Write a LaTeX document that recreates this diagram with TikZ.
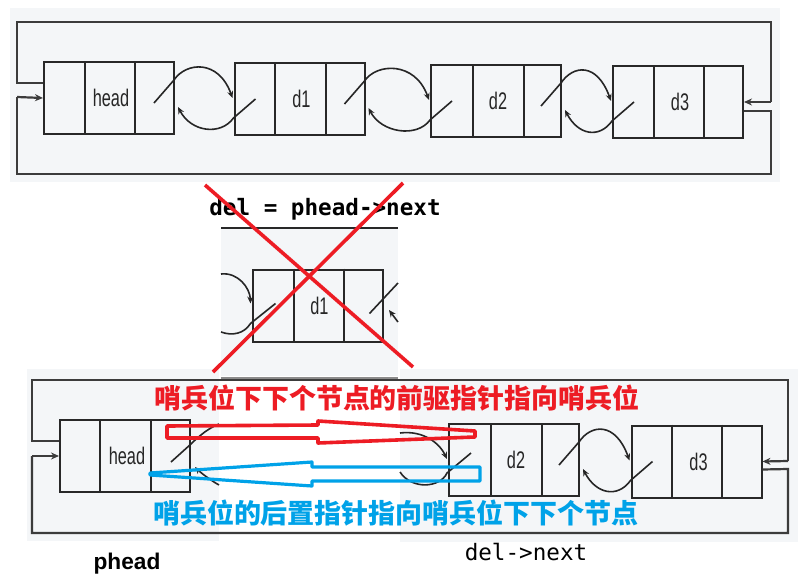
\documentclass[tikz,border=0pt]{standalone}
\usepackage{fontspec}
\usetikzlibrary{arrows.meta,calc}
\newfontfamily\cjk{Noto Sans CJK SC}
\newfontfamily\nodefont[FakeStretch=0.68]{Liberation Sans}
\newfontfamily\monofont{DejaVu Sans Mono}
\newfontfamily\sansb{Liberation Sans}
\definecolor{panelbg}{RGB}{244,246,248}
\definecolor{framec}{RGB}{60,60,60}
\definecolor{boxc}{RGB}{40,40,40}
\definecolor{xred}{RGB}{237,28,36}
\definecolor{xblue}{RGB}{0,162,232}
\tikzset{
  cellbox/.style={draw=boxc, line width=2pt, minimum width=130pt, minimum height=72pt, inner sep=0pt, fill=panelbg},
  divline/.style={draw=boxc, line width=2pt},
  lbl/.style={font=\nodefont\fontsize{24}{24}\selectfont, text=black!85, inner sep=0pt},
  frameline/.style={draw=framec, line width=2.2pt},
  framearrow/.style={draw=framec, line width=2.2pt, -{Stealth[length=8pt,width=7pt]}},
  lnk/.style={draw=black!85, line width=1.6pt, -{Stealth[length=7pt,width=6pt]}},
  lnkplain/.style={draw=black!85, line width=1.6pt},
  crossline/.style={draw=xred, line width=3.6pt},
  redshape/.style={draw=xred, line width=3.6pt, line join=round},
  blueshape/.style={draw=xblue, line width=3.2pt, line join=round},
}
\newcommand\lnode[6]{% name, cx, cy, label, div1, div2
  \node[cellbox] (#1) at (#2,#3) {};
  \draw[divline] ([xshift=#5pt]#1.north west) -- ([xshift=#5pt]#1.south west);
  \draw[divline] ([xshift=#6pt]#1.north west) -- ([xshift=#6pt]#1.south west);
  \node[lbl] (#1-t) at ([xshift=2pt]#1.center) {#4};
}
\newcommand\lk[2]{%
  \draw[lnk] ($(#1.east)+(-21,5)$) -- ($(#1.east)+(-1,-18)$) .. controls ($(#1.east)+(11,-36)$) and ($(#2.west)+(-15,-40)$) .. ($(#2.west)+(-1,-1)$);
  \draw[lnk] ($(#2.west)+(22,0)$) -- ($(#2.west)+(0,19)$) .. controls ($(#2.west)+(-13,37)$) and ($(#1.east)+(16,34)$) .. ($(#1.east)+(3,9)$);
}
\begin{document}
\begin{tikzpicture}[x=1pt,y=-1pt]
\useasboundingbox (0,0) rectangle (807,576);
% ---------- backgrounds ----------
\fill[panelbg] (10,8) rectangle (780,182);
\fill[panelbg] (221,228) rectangle (398,376);
\fill[panelbg] (27,369) rectangle (219,541);
\fill[panelbg] (400,369) rectangle (798,542);
% ---------- top panel ----------
\lnode{h1}{109}{98}{head}{42}{92}
\lnode{a1}{299.5}{99}{d1}{41}{92}
\lnode{a2}{496}{101}{d2}{43}{94}
\lnode{a3}{678}{102}{d3}{42}{92}
\draw[frameline] ([yshift=15pt]h1.west) -- (17,83) -- (17,22) -- (771,22) -- (771,102);
\draw[framearrow] (771,102) -- (a3.east);
\draw[frameline] ([yshift=-9pt]a3.east) -- (771,111) -- (771,174) -- (17,174) -- (17,97);
\draw[framearrow] (17,97) -- (h1.west);
\lk{h1}{a1}
\lk{a1}{a2}
\lk{a2}{a3}
% ---------- middle panel ----------
\node[anchor=base, font=\monofont\bfseries\fontsize{22.6}{24}\selectfont, inner sep=0pt] (code1) at (325,215) {del = phead->next};
\draw[draw=boxc, line width=2pt] (221,228) -- (398,228);
\draw[draw=black!45, line width=1.5pt] (221,378) -- (398,378);
\lnode{m1}{317.5}{305.5}{d1}{42}{92}
\coordinate (mL1) at (221,274);
\coordinate (mL2) at (221,332);
\coordinate (mR1) at (398,283);
\coordinate (mR2) at (398,322);
\draw[lnk] (mL1) .. controls (238,272) and (250,288) .. ($(m1.west)+(-1,-2)$);
\draw[lnkplain] ($(m1.west)+(24,-2)$) -- ($(m1.west)+(-1,18)$) .. controls (244,334) and (232,336) .. (mL2);
\draw[lnkplain] ($(m1.east)+(-14,8)$) -- (mR1);
\draw[lnk] (mR2) -- (389,310);
% ---------- bottom panel ----------
\lnode{h2}{125}{456}{head}{41}{92}
\lnode{b2}{514}{460}{d2}{43}{94}
\lnode{b3}{696.5}{461.5}{d3}{41}{91}
\draw[frameline] ([yshift=15pt]h2.west) -- (32,441) -- (32,380) -- (788,380) -- (788,461);
\draw[framearrow] (788,461) -- (b3.east);
\draw[frameline] ([yshift=-8pt]b3.east) -- (788,469) -- (788,533) -- (32,533) -- (32,456);
\draw[framearrow] (32,456) -- (h2.west);
\lk{b2}{b3}
\coordinate (pA) at (219,424);
\coordinate (pB) at (219,485);
\coordinate (pC) at (400,433);
\coordinate (pD) at (400,472);
\draw[lnkplain] ($(h2.east)+(-20,6)$) -- ($(h2.east)+(0,-12)$) .. controls (200,435) and (209,428) .. (pA);
\draw[lnk] (pB) .. controls (210,480) and (200,472) .. ($(h2.east)+(4,11)$);
\draw[lnk] (pC) .. controls (424,430) and (440,444) .. ($(b2.west)+(-1,-1)$);
\draw[lnkplain] ($(b2.west)+(23,-7)$) -- ($(b2.west)+(-1,13)$) .. controls (440,488) and (412,490) .. (pD);
% ---------- labels ----------
\node[anchor=base, font=\sansb\bfseries\fontsize{22.7}{24}\selectfont, inner sep=0pt] (phead) at (127,569) {phead};
\node[anchor=base, font=\monofont\fontsize{22.6}{24}\selectfont, inner sep=0pt] (code2) at (526,560) {del->next};
% ---------- red cross ----------
\draw[crossline] (205,185) -- (413,367);
\draw[crossline] (403,183) -- (213,372);
% ---------- hand-drawn arrows ----------
\draw[redshape] (167,426) -- (318,425) -- (318,421) -- (475,431) -- (475,437) -- (318,443) -- (318,438) -- (167,438) -- cycle;
\draw[blueshape] (150,473) -- (312,462) -- (312,467) -- (480,467) -- (480,481) -- (312,481) -- (312,486) -- (150,475) -- cycle;
\node[font=\cjk\bfseries\fontsize{27}{28}\selectfont, text=xred, inner sep=0pt] (rtext) at (397,398) {哨兵位下下个节点的前驱指针指向哨兵位};
\node[font=\cjk\bfseries\fontsize{27}{28}\selectfont, text=xblue, inner sep=0pt] (btext) at (396,513) {哨兵位的后置指针指向哨兵位下下个节点};
\end{tikzpicture}
\end{document}
